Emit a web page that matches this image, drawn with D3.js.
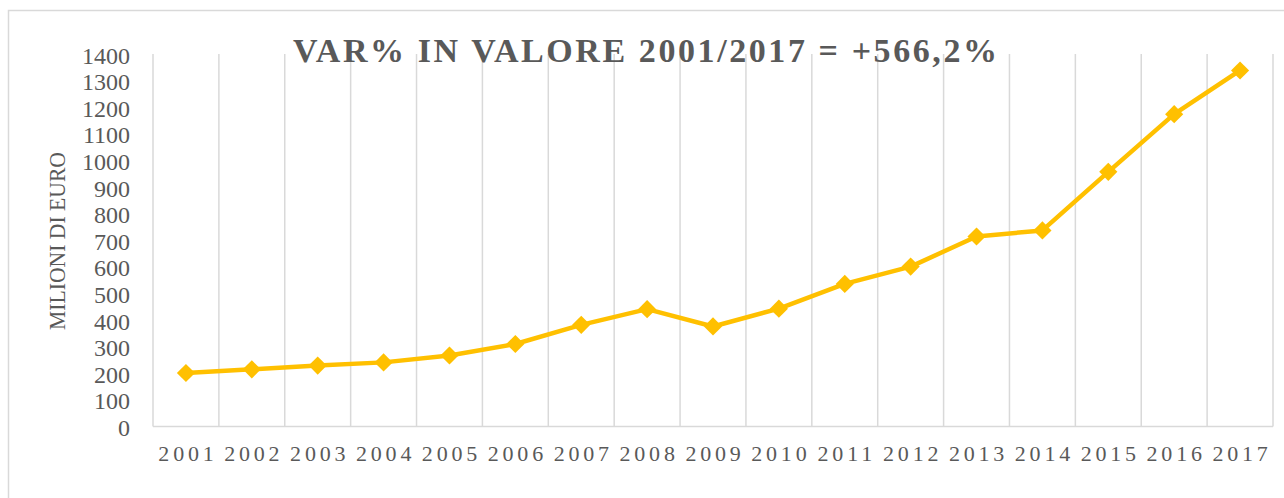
<!DOCTYPE html>
<head>
    <meta charset="UTF-8">
    <script src="https://cdnjs.cloudflare.com/ajax/libs/d3/7.8.5/d3.min.js"></script>
    <style>
        body { margin: 0; background: #fff; }
        text { font-family: "Liberation Serif", "DejaVu Serif", serif; fill: #595959; }
    </style>
</head>
<body>
    <svg id="chart"></svg>

    <script>
        //********** DATOS *********************
        var anni = ["2001", "2002", "2003", "2004", "2005", "2006", "2007", "2008", "2009",
                    "2010", "2011", "2012", "2013", "2014", "2015", "2016", "2017"];
        var valori = [201, 215, 229, 241, 267, 310, 382, 441, 376,
                      443, 536, 601, 714, 737, 957, 1174, 1338];
        var ticksY = [0, 100, 200, 300, 400, 500, 600, 700, 800, 900, 1000, 1100, 1200, 1300, 1400];
        var titolo = "VAR% IN VALORE 2001/2017 = +566,2%";
        var titoloY = "MILIONI DI EURO";

        //********** DEFINICIONES *********************
        var width = 1284, height = 498;
        var plotLeft = 153, plotRight = 1273, plotTop = 54, plotBottom = 426.5;
        var grigio = "#d9d9d9", giallo = "#FFC000";

        var svg = d3.select("#chart")
            .attr("width", width)
            .attr("height", height);

        var x = d3.scaleBand()
            .domain(anni)
            .range([plotLeft, plotRight])
            .paddingInner(0)
            .paddingOuter(0);

        var y = d3.scaleLinear()
            .domain([0, 1400])
            .range([plotBottom, plotTop]);

        // cornice esterna
        svg.append("rect")
            .attr("x", 8.5).attr("y", 10.5)
            .attr("width", 1290).attr("height", 500)
            .style("fill", "none")
            .style("stroke", grigio)
            .style("stroke-width", 1.5);

        // griglia verticale (bordi delle categorie)
        var bordi = anni.map(function (d) { return x(d); }).concat([x.range()[1]]);
        svg.append("g").selectAll("line")
            .data(bordi)
            .enter()
            .append("line")
            .attr("x1", function (d) { return d; })
            .attr("x2", function (d) { return d; })
            .attr("y1", plotTop)
            .attr("y2", plotBottom)
            .style("stroke", grigio)
            .style("stroke-width", 1.5);

        // asse x
        svg.append("line")
            .attr("x1", plotLeft).attr("x2", plotRight)
            .attr("y1", plotBottom).attr("y2", plotBottom)
            .style("stroke", grigio)
            .style("stroke-width", 1.5);

        svg.append("g").selectAll("text")
            .data(anni)
            .enter()
            .append("text")
            .attr("x", function (d) { return x(d) + x.bandwidth() / 2 + 2; })
            .attr("y", 461)
            .attr("text-anchor", "middle")
            .style("font-size", "22px")
            .style("letter-spacing", "3.8px")
            .text(function (d) { return d; });

        // asse y
        svg.append("g").selectAll("text")
            .data(ticksY)
            .enter()
            .append("text")
            .attr("x", 130)
            .attr("y", function (d) { return y(d) + 1.5; })
            .attr("text-anchor", "end")
            .attr("dominant-baseline", "central")
            .style("font-size", "24px")
            .text(function (d) { return d; });

        svg.append("text")
            .attr("transform", "translate(65,241) rotate(-90)")
            .attr("text-anchor", "middle")
            .attr("textLength", 178)
            .attr("lengthAdjust", "spacingAndGlyphs")
            .style("font-size", "23px")
            .text(titoloY);

        // titolo
        svg.append("text")
            .attr("x", 293)
            .attr("y", 62)
            .attr("textLength", 704)
            .attr("lengthAdjust", "spacing")
            .style("font-size", "34px")
            .style("font-weight", "bold")
            .text(titolo);

        // linea
        var line = d3.line()
            .x(function (d, i) { return x(anni[i]) + x.bandwidth() / 2; })
            .y(function (d) { return y(d); });

        svg.append("path")
            .datum(valori)
            .attr("d", line)
            .style("fill", "none")
            .style("stroke", giallo)
            .style("stroke-width", 4.5)
            .style("stroke-linejoin", "round");

        // marcatori a rombo
        var rombo = d3.symbol().type(d3.symbolSquare).size(165);
        svg.append("g").selectAll("path")
            .data(valori)
            .enter()
            .append("path")
            .attr("d", rombo)
            .attr("transform", function (d, i) {
                return "translate(" + (x(anni[i]) + x.bandwidth() / 2) + "," + y(d) + ") rotate(45)";
            })
            .style("fill", giallo);
    </script>
</body>
